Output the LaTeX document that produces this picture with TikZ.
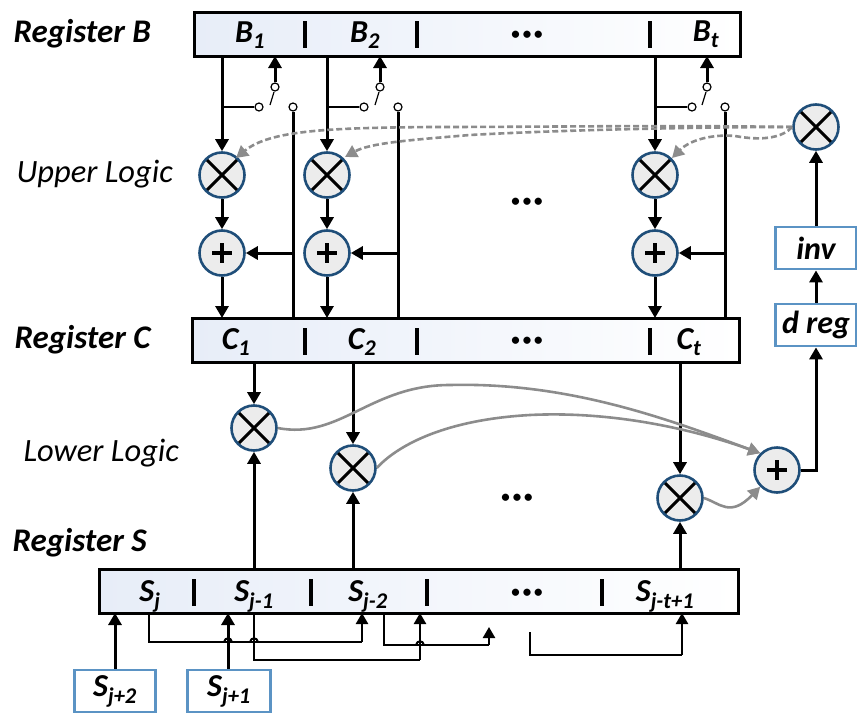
\documentclass[tikz,border=0pt]{standalone}
\usepackage{fontspec}
\setmainfont{Carlito}
\usetikzlibrary{arrows.meta,calc}
\definecolor{ringblue}{HTML}{1F4E79}
\definecolor{boxblue}{HTML}{5B93C4}
\definecolor{opfill}{HTML}{ECECEC}
\definecolor{regleft}{HTML}{E7EDF8}
\definecolor{regmid}{HTML}{F9FAFD}
\definecolor{flowgray}{HTML}{8C8C8C}
\tikzset{
  x=1pt,y=-1pt,
  regbox/.style={draw=black,line width=3pt,inner sep=0pt,outer sep=0pt,left color=regleft,middle color=regmid,right color=white,anchor=north west},
  opnode/.style={circle,draw=ringblue,line width=2.6pt,fill=opfill,minimum size=45pt,inner sep=0pt},
  mul/.style={opnode,path picture={\draw[black,line width=3pt] (path picture bounding box.north west)++(6.5,6.5)--++(35,35) (path picture bounding box.north east)++(-6.5,6.5)--++(-35,35);}},
  add/.style={opnode,path picture={\draw[black,line width=3.2pt] (path picture bounding box.center)++(-10,0)--++(20,0) (path picture bounding box.center)++(0,-10)--++(0,20);}},
  sidebox/.style={draw=boxblue,line width=2.8pt,fill=white,inner sep=0pt,minimum width=81pt,minimum height=42pt,font=\fontsize{32}{32}\selectfont\bfseries\itshape},
  contact/.style={circle,draw=black,line width=1.2pt,fill=white,minimum size=8pt,inner sep=0pt},
  arr/.style={line width=3pt,-{Triangle[width=13pt,length=12pt]}},
  line/.style={line width=3pt},
  thin line/.style={line width=2.4pt},
  thin arr/.style={line width=2.4pt,-{Triangle[width=12pt,length=11pt]}},
  grayd/.style={draw=flowgray,line width=2.6pt,dash pattern=on 6pt off 3pt,-{Triangle[width=13pt,length=12pt]}},
  grays/.style={draw=flowgray,line width=2.6pt,-{Triangle[width=13pt,length=12pt]}},
  regtitle/.style={font=\fontsize{33}{33}\selectfont\bfseries\itshape,anchor=west},
  logictitle/.style={font=\fontsize{32.5}{32.5}\selectfont\itshape,anchor=west},
  cell/.style={font=\fontsize{32}{32}\selectfont\bfseries\itshape},
  sep/.style={line width=3.4pt},
  dots/.style={font=\fontsize{17}{17}\selectfont\bfseries},
}
\newcommand{\regsep}[2]{\draw[sep] (#1,#2) -- ++(0,27);}
\newcommand{\threedots}{•\kern3pt•\kern3pt•}
\newcommand{\lowered}[1]{\raisebox{-2pt}{#1}}
\begin{document}
\begin{tikzpicture}
\useasboundingbox (0,0) rectangle (857,715);
% titles
\node[regtitle] (tb) at (10,34) {Register B};
\node[regtitle] (tc) at (11,340) {Register C};
\node[regtitle] (ts) at (9,543) {Register S};
\node[logictitle] (tu) at (13,174) {Upper Logic};
\node[logictitle] (tl) at (20,453) {Lower Logic};
% registers
\node[regbox,minimum width=546pt,minimum height=44pt] (regB) at (194,12) {};
\node[regbox,minimum width=547pt,minimum height=44pt] (regC) at (192,318) {};
\node[regbox,minimum width=639pt,minimum height=44pt] (regS) at (99,569) {};
\regsep{305}{21}\regsep{417}{21}\regsep{650}{21}
\regsep{305}{328}\regsep{417}{328}\regsep{650}{328}
\regsep{194}{579}\regsep{311}{579}\regsep{427}{579}\regsep{602}{579}
% cell labels
\node[cell] (b1) at (250,35) {B\textsubscript{1}};
\node[cell] (b2) at (365,35) {B\textsubscript{2}};
\node[cell] (bt) at (706,34) {B\textsubscript{t}};
\node[cell] (c1) at (236,342) {C\textsubscript{1}};
\node[cell] (c2) at (362,342) {C\textsubscript{2}};
\node[cell] (ct) at (689,342) {C\textsubscript{t}};
\node[cell] (s1) at (150,596) {S\textsubscript{j}};
\node[cell] (s2) at (254,596) {S\textsubscript{j-1}};
\node[cell] (s3) at (368,596) {S\textsubscript{j-2}};
\node[cell] (s4) at (665,596) {S\textsubscript{j-t+1}};
\node[dots] (d1) at (527,35) {\threedots};
\node[dots] (d2) at (527,202) {\threedots};
\node[dots] (d3) at (527,341) {\threedots};
\node[dots] (d4) at (517,498) {\threedots};
\node[dots] (d5) at (527,593) {\threedots};
% operators
\node[mul] (m1) at (222,175) {};
\node[mul] (m2) at (327,175) {};
\node[mul] (m3) at (655,175) {};
\node[add] (a1) at (222,253) {};
\node[add] (a2) at (327,253) {};
\node[add] (a3) at (655,253) {};
\node[mul] (mt) at (816,127) {};
\node[mul] (l1) at (254,428) {};
\node[mul] (l2) at (353,468) {};
\node[mul] (l3) at (680,498) {};
\node[add] (sum) at (777,470) {};
% side boxes
\node[sidebox] (inv) at (816,248) {\lowered{inv}};
\node[sidebox] (dreg) at (816,325) {\lowered{d reg}};
\node[sidebox] (sp2) at (115,691) {\lowered{S\textsubscript{j+2}}};
\node[sidebox,minimum width=83pt] (sp1) at (229,691) {\lowered{S\textsubscript{j+1}}};
% switches
\foreach \n/\x/\u/\o in {1/259/275/293,2/364/380/398,3/692/707/725}{
  \node[contact] (fa\n) at (\x,107) {};
  \node[contact] (up\n) at (\u,87) {};
  \node[contact] (ot\n) at (\o,107) {};
  \coordinate (sa\n) at (\u-5,105);
  \coordinate (sb\n) at (\u-1,92);
  \draw[line width=1.2pt] (sa\n) -- (sb\n);
  \draw[arr] (up\n) -- (up\n |- regB.south);
}
% upper connectors
\foreach \n in {1,2,3}{
  \draw[arr] (m\n |- regB.south) -- (m\n);
  \draw[line width=2.4pt] (m\n |- fa\n) -- (fa\n);
  \draw[arr] (m\n) -- (a\n);
  \draw[arr] (a\n) -- (a\n |- regC.north);
  \draw[line] (ot\n) -- (ot\n |- regC.north);
  \draw[arr] (ot\n |- a\n) -- (a\n);
}
% right column
\draw[arr] (inv) -- (mt);
\draw[arr] (dreg) -- (inv);
\draw[arr] (sum.east) -- (sum -| dreg) -- (dreg);
% dashed gray feedback
\draw[grayd] (mt.west) .. controls (650,125) and (560,127) .. (430,127) .. controls (330,128) and (270,130) .. (236,158);
\draw[grayd] (mt.west) .. controls (700,127) and (560,130) .. (470,135) .. controls (410,140) and (370,143) .. (345,157);
\draw[grayd] (mt.west) .. controls (782,138) and (762,141) .. (735,136) .. controls (712,134) and (690,140) .. (672,158);
% lower connectors
\draw[arr] (l1 |- regC.south) -- (l1);
\draw[arr] (l2 |- regC.south) -- (l2);
\draw[arr] (l3 |- regC.south) -- (l3);
\draw[arr] (l1 |- regS.north) -- (l1);
\draw[arr] (l2 |- regS.north) -- (l2);
\draw[arr] (l3 |- regS.north) -- (l3);
% gray solid
\draw[grays] (l1.east) .. controls (340,440) and (370,385) .. (450,385) .. controls (570,382) and (670,420) .. (sum.north west);
\draw[grays] (l2.east) .. controls (395,448) and (440,420) .. (530,415) .. controls (610,411) and (690,428) .. (sum.north west);
\draw[grays] (l3.east) .. controls (720,503) and (730,518) .. (sum.south west);
% shift connectors
\coordinate (p1) at (149,642);
\coordinate (p2) at (362,642);
\coordinate (p3) at (254,660);
\coordinate (p4) at (420,660);
\coordinate (p5) at (384,645);
\coordinate (p6) at (489,645);
\coordinate (p7) at (489,627);
\coordinate (p8) at (530,632);
\coordinate (p9) at (530,655);
\coordinate (p10) at (682,655);
\draw[thin line] (p1 |- regS.south) -- (p1) -- (p2);
\draw[thin arr] (p2) -- (p2 |- regS.south);
\draw[thin line] (p3 |- regS.south) -- (p3) -- (p4);
\draw[thin arr] (p4) -- (p4 |- regS.south);
\draw[thin line] (p5 |- regS.south) -- (p5) -- (p6);
\draw[thin arr] (p6) -- (p7);
\draw[thin line] (p8) -- (p9) -- (p10);
\draw[thin arr] (p10) -- (p10 |- regS.south);
\coordinate (ia) at (115,0);
\coordinate (ib) at (228,0);
\draw[arr] (ia |- sp2.north) -- (ia |- regS.south);
\draw[arr] (ib |- sp1.north) -- (ib |- regS.south);
% line hops
\foreach \hx/\hy in {228/642,254/642,420/645}{
  \draw[line width=2pt] (\hx-4,\hy) .. controls (\hx-3,\hy-5) and (\hx+3,\hy-5) .. (\hx+4,\hy);
}
\end{tikzpicture}
\end{document}
